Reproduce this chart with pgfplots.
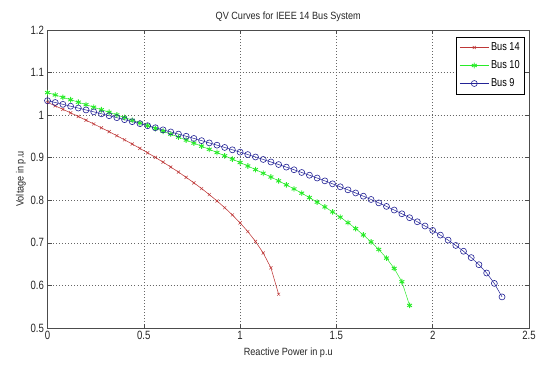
\documentclass[border=0pt]{standalone}
\usepackage{fontspec}
\setmainfont{Liberation Sans}[FakeStretch=0.87]
\newfontfamily\tickfont{Liberation Sans}[FakeStretch=0.8]
\usepackage{pgfplots}
\pgfplotsset{compat=1.18}
\definecolor{cred}{RGB}{190,55,55}
\definecolor{cgreen}{RGB}{40,235,40}
\definecolor{cblue}{RGB}{35,35,150}
\begin{document}
\begin{tikzpicture}
\useasboundingbox (-47.5pt,-39pt) rectangle (490.5pt,328pt);
\begin{axis}[
  at={(0pt,0pt)}, anchor=south west,
  scale only axis, width=481.5pt, height=298pt,
  xmin=0, xmax=2.5, ymin=0.5, ymax=1.2,
  xtick={0,0.5,1,1.5,2,2.5},
  ytick={0.5,0.6,0.7,0.8,0.9,1,1.1,1.2},
  tick align=inside, tick pos=both,
  major tick length=4pt,
  grid=major,
  grid style={dash pattern=on 0.6pt off 2.4pt, black!60, line width=0.6pt},
  axis line style={black!70, line width=0.6pt},
  every tick/.style={black!70, line width=0.6pt},
  /pgf/number format/assume math mode=true,
  ticklabel style={font=\tickfont\fontsize{12}{13}\selectfont, text=black!85},
  title={QV Curves for IEEE 14 Bus System},
  title style={font=\fontsize{10.5}{12}\selectfont, text=black!85, yshift=-1pt},
  xlabel={Reactive Power in p.u},
  ylabel={Voltage in p.u},
  label style={font=\fontsize{10.5}{12}\selectfont, text=black!85},
  xlabel style={yshift=-1pt},
  ylabel style={yshift=-2pt},
  legend style={at={(1,1)}, anchor=north east, xshift=-4pt, yshift=-6.5pt,
    draw=black, line width=0.6pt, font=\tickfont\fontsize{11.5}{12}\selectfont,
    row sep=4.5pt, inner xsep=3pt, inner ysep=4pt},
  legend cell align=left,
  legend image code/.code={\draw[mark repeat=2,mark phase=2] plot coordinates {(0pt,0pt) (14.5pt,0pt) (29pt,0pt)};},
]
\addplot[color=cred, line width=0.55pt, mark=x, mark size=2.2pt, mark options={line width=0.5pt}] coordinates {
(0,1.0300) (0.04,1.0219) (0.08,1.0137) (0.12,1.0054) (0.16,0.9969) (0.20,0.9882)
(0.24,0.9794) (0.28,0.9703) (0.32,0.9611) (0.36,0.9517) (0.40,0.9420) (0.44,0.9321)
(0.48,0.9219) (0.52,0.9115) (0.56,0.9007) (0.60,0.8896) (0.64,0.8781) (0.68,0.8662)
(0.72,0.8539) (0.76,0.8410) (0.80,0.8276) (0.84,0.8134) (0.88,0.7985) (0.92,0.7826)
(0.96,0.7655) (1.00,0.7470) (1.04,0.7265) (1.08,0.7034) (1.12,0.6762) (1.16,0.6414)
(1.20,0.5793)
};
\addlegendentry{Bus 14}
\addplot[color=cgreen, line width=0.5pt, mark=asterisk, mark size=2.8pt, mark options={line width=0.9pt}] coordinates {
(0,1.0530) (0.04,1.0475) (0.08,1.0419) (0.12,1.0362) (0.16,1.0304) (0.20,1.0246)
(0.24,1.0187) (0.28,1.0127) (0.32,1.0067) (0.36,1.0006) (0.40,0.9944) (0.44,0.9881)
(0.48,0.9817) (0.52,0.9753) (0.56,0.9687) (0.60,0.9621) (0.64,0.9553) (0.68,0.9484)
(0.72,0.9414) (0.76,0.9343) (0.80,0.9271) (0.84,0.9197) (0.88,0.9122) (0.92,0.9045)
(0.96,0.8967) (1.00,0.8887) (1.04,0.8805) (1.08,0.8721) (1.12,0.8635) (1.16,0.8547)
(1.20,0.8456) (1.24,0.8363) (1.28,0.8267) (1.32,0.8167) (1.36,0.8064) (1.40,0.7956)
(1.44,0.7844) (1.48,0.7727) (1.52,0.7604) (1.56,0.7474) (1.60,0.7335) (1.64,0.7186)
(1.68,0.7024) (1.72,0.6845) (1.76,0.6642) (1.80,0.6400) (1.84,0.6086) (1.88,0.5530)
};
\addlegendentry{Bus 10}
\addplot[color=cblue, line width=0.5pt, mark=o, mark size=3pt, mark options={line width=0.6pt}] coordinates {
(0,1.0340) (0.04,1.0297) (0.08,1.0254) (0.12,1.0210) (0.16,1.0167) (0.20,1.0122)
(0.24,1.0078) (0.28,1.0032) (0.32,0.9987) (0.36,0.9941) (0.40,0.9894) (0.44,0.9847)
(0.48,0.9800) (0.52,0.9752) (0.56,0.9704) (0.60,0.9655) (0.64,0.9605) (0.68,0.9555)
(0.72,0.9504) (0.76,0.9453) (0.80,0.9401) (0.84,0.9348) (0.88,0.9295) (0.92,0.9241)
(0.96,0.9186) (1.00,0.9131) (1.04,0.9074) (1.08,0.9017) (1.12,0.8959) (1.16,0.8900)
(1.20,0.8840) (1.24,0.8779) (1.28,0.8717) (1.32,0.8653) (1.36,0.8589) (1.40,0.8523)
(1.44,0.8456) (1.48,0.8387) (1.52,0.8317) (1.56,0.8245) (1.60,0.8172) (1.64,0.8096)
(1.68,0.8019) (1.72,0.7939) (1.76,0.7856) (1.80,0.7771) (1.84,0.7683) (1.88,0.7591)
(1.92,0.7496) (1.96,0.7396) (2.00,0.7292) (2.04,0.7182) (2.08,0.7065) (2.12,0.6939)
(2.16,0.6803) (2.20,0.6654) (2.24,0.6487) (2.28,0.6292) (2.32,0.6048) (2.36,0.5730)
};
\addlegendentry{Bus 9}
\end{axis}
\end{tikzpicture}
\end{document}
